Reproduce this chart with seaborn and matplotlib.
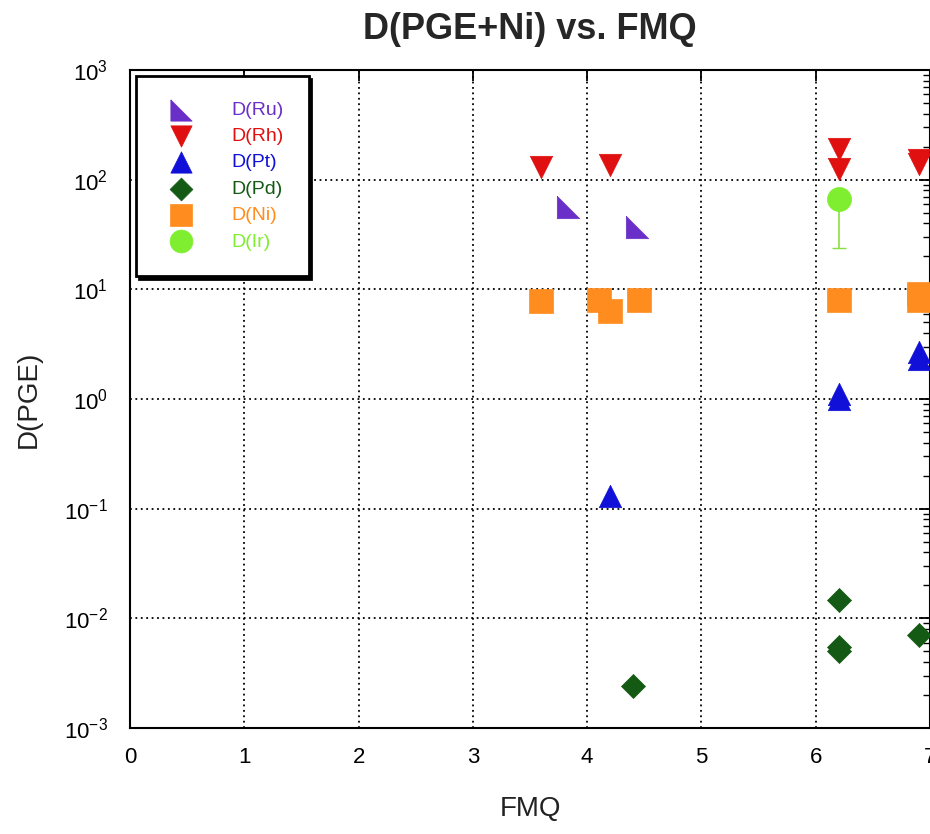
import numpy as np
import pandas as pd
import matplotlib
matplotlib.use("Agg")
import matplotlib.pyplot as plt
import seaborn as sns

# values
ru_x = [3.83, 4.44]
ru_y = [56, 37]
rh_x = [3.6, 4.2, 6.2, 6.2, 6.9, 6.9]
rh_y = [131, 135, 190, 126, 150, 140]
pt_x = [4.2, 6.2, 6.2, 6.9, 6.9]
pt_y = [0.13, 1.0, 1.1, 2.3, 2.7]
pd_x = [4.4, 6.2, 6.2, 6.2, 6.9]
pd_y = [0.0024, 0.0148, 0.0055, 0.005, 0.0070]
ni_x = [3.6, 4.1, 4.2, 4.45, 6.2, 6.9, 6.9]
ni_y = [7.8, 8.0, 6.3, 8.0, 8.0, 8.0, 9.0]
ir_x = [6.2]
ir_y = [67]
ir_err_low = [43]

sns.set_style("white")
plt.rcParams['font.family'] = ['Liberation Sans', 'DejaVu Sans']
plt.rcParams['mathtext.fontset'] = 'custom'
plt.rcParams['mathtext.rm'] = 'Liberation Sans'
plt.rcParams['mathtext.it'] = 'Liberation Sans:italic'

fig = plt.figure(figsize=(9.3, 8.34), dpi=100)
ax = fig.add_axes([130 / 930, 1 - 728 / 834, 1 - 130 / 930, (728 - 70) / 834])

ru_marker = [(-1, 1), (-1, -1), (1, -1), (-1, 1)]

ax.errorbar(ir_x, ir_y, yerr=[ir_err_low, [0]], fmt="none",
            ecolor="#88e040", elinewidth=1.2, capsize=5, zorder=2)

series = [
    ("D(Ru)", ru_x, ru_y, ru_marker, "#6a2fc8", 260),
    ("D(Rh)", rh_x, rh_y, "v", "#e01010", 260),
    ("D(Pt)", pt_x, pt_y, "^", "#1010d8", 260),
    ("D(Pd)", pd_x, pd_y, "D", "#145a14", 150),
    ("D(Ni)", ni_x, ni_y, "s", "#ff8c1e", 300),
    ("D(Ir)", ir_x, ir_y, "o", "#80ee30", 300),
]
for label, xs, ys, mk, col, size in series:
    df = pd.DataFrame({"FMQ": xs, "D": ys})
    sns.scatterplot(data=df, x="FMQ", y="D", marker=mk, color=col, s=size,
                    edgecolor=col, linewidth=0.5, ax=ax, label=label, zorder=3)

ax.set_yscale("log")
ax.set_xlim(0, 7)
ax.set_ylim(1e-3, 1e3)
ax.set_xticks(range(0, 8))
ax.set_yticks([1e-3, 1e-2, 1e-1, 1e0, 1e1, 1e2, 1e3])
ax.grid(True, which="major", color="black", linestyle=(0, (1, 2)), linewidth=1.3)
ax.tick_params(which="both", direction="in", top=True, right=True, colors="black")
ax.tick_params(which="major", length=8, width=1.3)
ax.tick_params(which="minor", length=5, width=1.0)
ax.tick_params(axis="x", labelsize=16, pad=14)
ax.tick_params(axis="y", labelsize=16, pad=16)
for sp in ax.spines.values():
    sp.set_color("black")
    sp.set_linewidth(1.5)

ax.set_xlabel("FMQ", fontsize=20, labelpad=20, color="#222222")
ax.set_ylabel("D(PGE)", fontsize=20, labelpad=16, color="#222222")
ax.set_title("D(PGE+Ni) vs. FMQ", fontsize=26, fontweight="bold", pad=22)

leg = ax.legend(loc="upper left", fontsize=14, frameon=True, fancybox=False,
                shadow={"color": "black", "alpha": 1.0},
                borderaxespad=0.3, borderpad=1.3, labelspacing=0.45,
                handletextpad=1.6, markerscale=0.95)
leg.get_frame().set_edgecolor("black")
leg.get_frame().set_linewidth(2)
leg.get_frame().set_alpha(1)
for txt, s in zip(leg.get_texts(), series):
    txt.set_color(s[4])

fig.savefig("out.png", dpi=100)
